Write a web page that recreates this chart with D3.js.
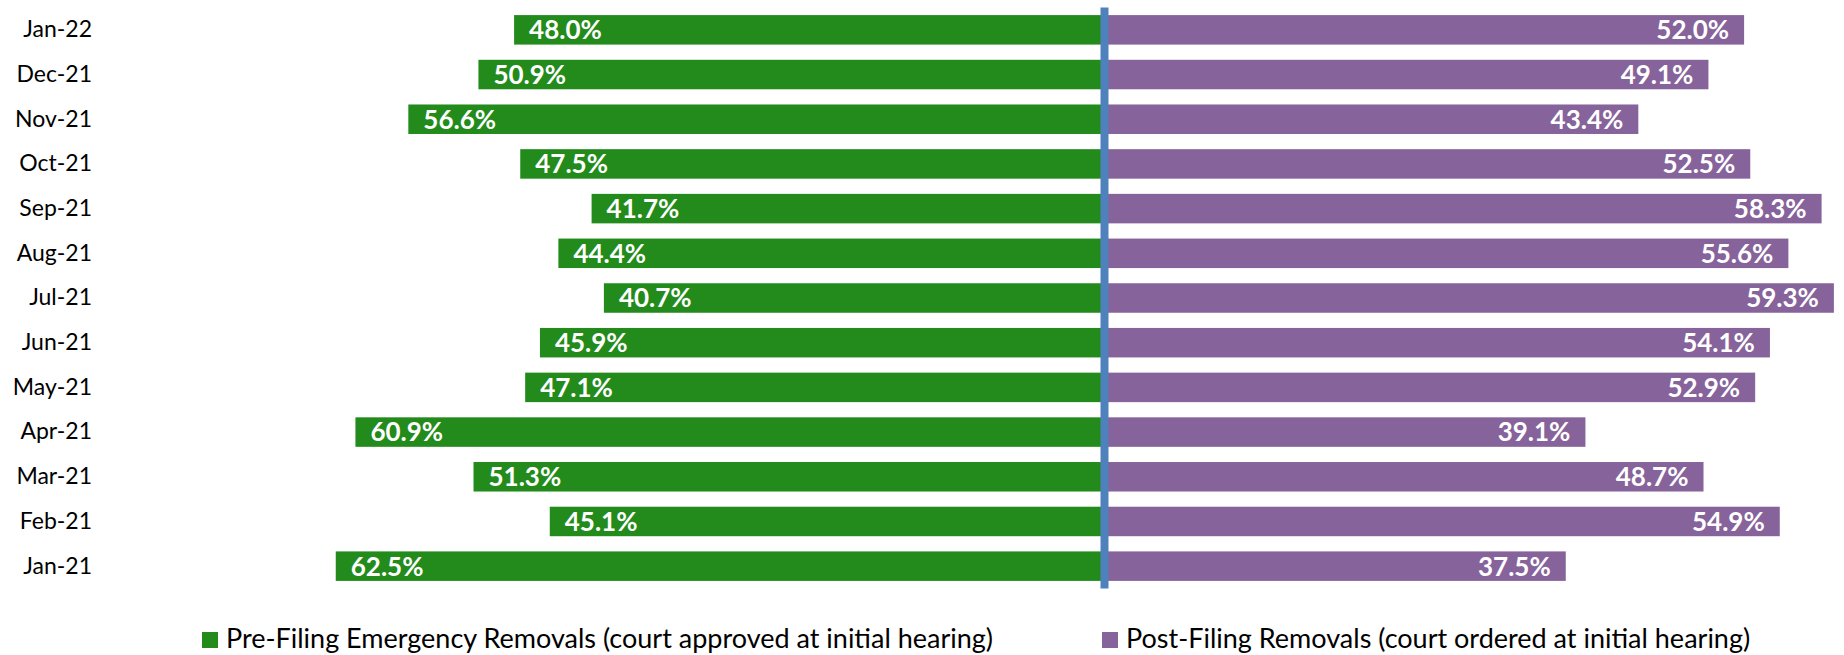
<!DOCTYPE html>
<html lang="en">
<head>
<meta charset="UTF-8">
<title>Pre-Filing vs Post-Filing Removals</title>
<script src="https://d3js.org/d3.v7.min.js"></script>
<style>
    body { margin: 0; background: #fff; overflow: hidden; }
    svg text { font-family: Lato, "Open Sans", sans-serif; }
    .cat { font-size: 23px; fill: #000; }
    .val { font-size: 26px; font-weight: bold; fill: #fff; }
    .leg { font-size: 27px; fill: #000; }
</style>
</head>
<body>
<div id="chart"></div>
<script>
// months, top to bottom
const months = ["Jan-22", "Dec-21", "Nov-21", "Oct-21", "Sep-21", "Aug-21", "Jul-21",
                "Jun-21", "May-21", "Apr-21", "Mar-21", "Feb-21", "Jan-21"];
const preFiling  = [48.0, 50.9, 56.6, 47.5, 41.7, 44.4, 40.7, 45.9, 47.1, 60.9, 51.3, 45.1, 62.5];
const postFiling = [52.0, 49.1, 43.4, 52.5, 58.3, 55.6, 59.3, 54.1, 52.9, 39.1, 48.7, 54.9, 37.5];
const seriesNames = ["Pre-Filing Emergency Removals (court approved at initial hearing)",
                     "Post-Filing Removals (court ordered at initial hearing)"];

const width = 1844, height = 655;
const green = "#228b1b", purple = "#87639b", axisBlue = "#4f81bd";
const center = 1104.5;

const svg = d3.select("#chart").append("svg")
    .attr("width", width)
    .attr("height", height)
    .style("display", "block");

const y = d3.scaleBand()
    .domain(months)
    .range([7.5, 588.5])
    .paddingInner(0.34)
    .paddingOuter(0.17);

// negative = pre-filing (left), positive = post-filing (right)
const x = d3.scaleLinear()
    .domain([-100, 100])
    .range([center - 1230, center + 1230]);

const rows = months.map((m, i) => ({month: m, pre: preFiling[i], post: postFiling[i]}));

// left bars
svg.selectAll("rect.pre")
    .data(rows)
    .join("rect")
    .attr("class", "pre")
    .attr("x", d => x(-d.pre))
    .attr("y", d => y(d.month))
    .attr("width", d => x(0) - x(-d.pre))
    .attr("height", y.bandwidth())
    .attr("fill", green);

// right bars
svg.selectAll("rect.post")
    .data(rows)
    .join("rect")
    .attr("class", "post")
    .attr("x", x(0))
    .attr("y", d => y(d.month))
    .attr("width", d => x(d.post) - x(0))
    .attr("height", y.bandwidth())
    .attr("fill", purple);

// value labels
svg.selectAll("text.vpre")
    .data(rows)
    .join("text")
    .attr("class", "val vpre")
    .attr("x", d => x(-d.pre) + 15)
    .attr("y", d => y(d.month) + y.bandwidth() / 2)
    .attr("dy", "0.36em")
    .text(d => d.pre.toFixed(1) + "%");

svg.selectAll("text.vpost")
    .data(rows)
    .join("text")
    .attr("class", "val vpost")
    .attr("x", d => x(d.post) - 15)
    .attr("y", d => y(d.month) + y.bandwidth() / 2)
    .attr("dy", "0.36em")
    .attr("text-anchor", "end")
    .text(d => d.post.toFixed(1) + "%");

// category axis on the left
const yAxis = svg.append("g")
    .attr("transform", "translate(92,0)")
    .call(d3.axisLeft(y).tickSize(0).tickPadding(0));
yAxis.select(".domain").remove();
yAxis.selectAll("text")
    .attr("class", "cat")
    .attr("font-family", null)
    .attr("font-size", null)
    .attr("fill", null);

// center line
svg.append("line")
    .attr("x1", x(0)).attr("x2", x(0))
    .attr("y1", y.range()[0]).attr("y2", y.range()[1])
    .attr("stroke", axisBlue)
    .attr("stroke-width", 8);

// legend
const legendX = [202, 1102];
const legend = svg.selectAll("g.legend")
    .data(seriesNames)
    .join("g")
    .attr("class", "legend")
    .attr("transform", (d, i) => `translate(${legendX[i]},632)`);

legend.append("rect")
    .attr("width", 16)
    .attr("height", 16)
    .attr("fill", (d, i) => i === 0 ? green : purple);

legend.append("text")
    .attr("class", "leg")
    .attr("x", 24)
    .attr("y", 16)
    .text(d => d);
</script>
</body>
</html>
